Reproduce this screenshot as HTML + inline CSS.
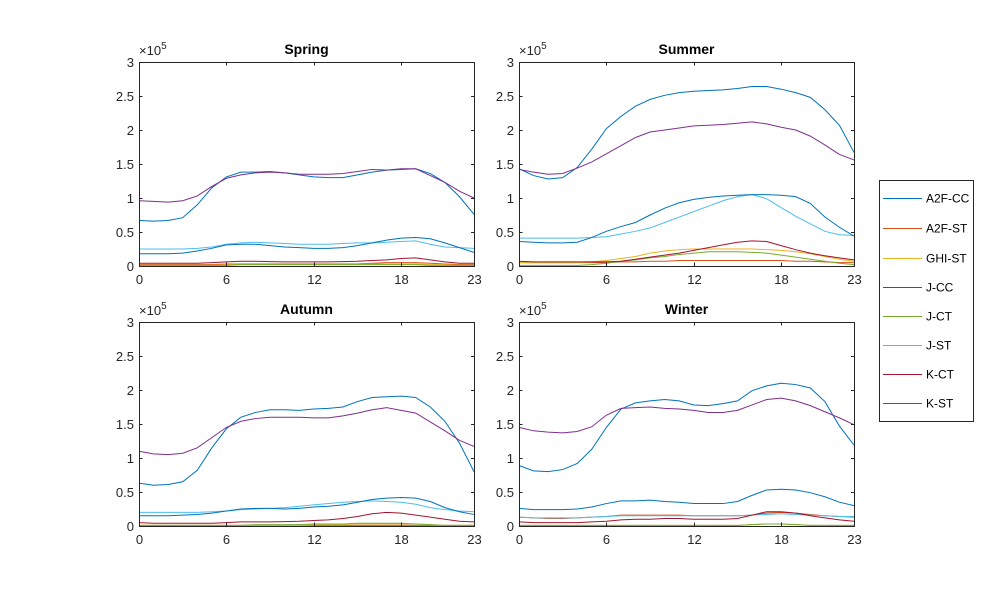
<!DOCTYPE html>
<html><head><meta charset="utf-8"><style>
html,body{margin:0;padding:0;background:#fff;}
svg{display:block;font-family:"Liberation Sans",Arial,sans-serif;}
</style></head><body>
<svg id="chart" width="1000" height="600" viewBox="0 0 1000 600"></svg>
<script>
const hours = [0,1,2,3,4,5,6,7,8,9,10,11,12,13,14,15,16,17,18,19,20,21,22,23];
const seriesNames = ["A2F-CC","A2F-ST","GHI-ST","J-CC","J-CT","J-ST","K-CT","K-ST"];
const seriesColors = ["#0072BD","#D95319","#EDB120","#7E2F8E","#77AC30","#4DBEEE","#A2142F","#0072BD"];
const seasons = ["Spring","Summer","Autumn","Winter"];
const yTicks = [0,0.5,1,1.5,2,2.5,3];
const yTickLabels = ["0","0.5","1","1.5","2","2.5","3"];
const xTicks = [0,6,12,18,23];
// values in units of 1e5
const springData = [
 [0.67,0.66,0.67,0.71,0.9,1.15,1.31,1.38,1.38,1.39,1.37,1.34,1.31,1.30,1.30,1.34,1.38,1.41,1.42,1.43,1.36,1.23,1.02,0.76],
 [0.02,0.02,0.02,0.02,0.02,0.02,0.03,0.03,0.03,0.03,0.03,0.03,0.03,0.03,0.03,0.03,0.04,0.05,0.05,0.05,0.04,0.03,0.02,0.02],
 [0.01,0.01,0.01,0.01,0.01,0.01,0.02,0.02,0.02,0.02,0.02,0.02,0.02,0.02,0.02,0.02,0.03,0.03,0.03,0.03,0.02,0.02,0.01,0.01],
 [0.96,0.95,0.94,0.96,1.03,1.17,1.29,1.34,1.37,1.38,1.37,1.35,1.35,1.35,1.36,1.39,1.42,1.41,1.43,1.43,1.33,1.23,1.10,1.00],
 [0.01,0.01,0.01,0.01,0.01,0.01,0.01,0.02,0.02,0.02,0.02,0.02,0.02,0.02,0.02,0.02,0.02,0.02,0.02,0.02,0.01,0.01,0.01,0.01],
 [0.25,0.25,0.25,0.25,0.26,0.28,0.32,0.34,0.35,0.34,0.33,0.32,0.32,0.32,0.33,0.34,0.34,0.35,0.36,0.37,0.32,0.28,0.27,0.26],
 [0.04,0.04,0.04,0.04,0.04,0.05,0.06,0.07,0.07,0.065,0.06,0.06,0.06,0.06,0.065,0.07,0.08,0.09,0.11,0.12,0.09,0.06,0.04,0.04],
 [0.18,0.18,0.18,0.19,0.22,0.26,0.31,0.32,0.32,0.30,0.28,0.27,0.26,0.26,0.27,0.30,0.34,0.38,0.41,0.42,0.40,0.34,0.27,0.20]
];
const summerData = [
 [1.43,1.33,1.28,1.30,1.45,1.72,2.02,2.20,2.35,2.45,2.51,2.55,2.57,2.58,2.59,2.61,2.64,2.64,2.60,2.55,2.48,2.30,2.07,1.67],
 [0.05,0.05,0.05,0.05,0.05,0.05,0.05,0.06,0.06,0.07,0.07,0.08,0.08,0.08,0.08,0.08,0.08,0.08,0.08,0.07,0.07,0.06,0.05,0.05],
 [0.05,0.05,0.05,0.05,0.05,0.06,0.08,0.11,0.14,0.19,0.22,0.24,0.25,0.25,0.25,0.25,0.25,0.24,0.23,0.21,0.18,0.14,0.10,0.07],
 [1.42,1.38,1.35,1.36,1.44,1.53,1.65,1.77,1.89,1.97,2.00,2.03,2.06,2.07,2.08,2.10,2.12,2.09,2.04,2.00,1.91,1.78,1.64,1.56],
 [0.01,0.01,0.01,0.01,0.01,0.02,0.04,0.07,0.09,0.12,0.14,0.17,0.19,0.21,0.21,0.21,0.20,0.19,0.16,0.13,0.10,0.07,0.04,0.02],
 [0.41,0.41,0.41,0.41,0.41,0.42,0.43,0.47,0.51,0.56,0.64,0.72,0.80,0.88,0.96,1.02,1.05,0.99,0.86,0.73,0.62,0.51,0.46,0.45],
 [0.07,0.06,0.06,0.06,0.06,0.06,0.06,0.07,0.10,0.13,0.16,0.19,0.23,0.27,0.31,0.35,0.37,0.36,0.30,0.24,0.19,0.15,0.12,0.09],
 [0.36,0.35,0.34,0.34,0.35,0.42,0.51,0.58,0.64,0.75,0.85,0.93,0.98,1.01,1.03,1.04,1.05,1.05,1.04,1.02,0.92,0.72,0.57,0.44]
];
const autumnData = [
 [0.63,0.60,0.61,0.65,0.82,1.15,1.43,1.60,1.67,1.71,1.71,1.70,1.72,1.73,1.75,1.83,1.89,1.90,1.91,1.89,1.75,1.54,1.22,0.80],
 [0.01,0.01,0.01,0.01,0.01,0.01,0.01,0.01,0.01,0.01,0.01,0.01,0.01,0.01,0.01,0.01,0.01,0.01,0.01,0.01,0.01,0.01,0.01,0.01],
 [0.01,0.01,0.01,0.01,0.01,0.01,0.01,0.01,0.01,0.01,0.01,0.01,0.02,0.02,0.02,0.03,0.03,0.03,0.03,0.03,0.02,0.01,0.01,0.01],
 [1.10,1.06,1.05,1.07,1.15,1.30,1.45,1.54,1.58,1.60,1.60,1.60,1.59,1.59,1.62,1.66,1.71,1.74,1.70,1.66,1.53,1.40,1.26,1.17],
 [0.01,0.01,0.01,0.01,0.01,0.01,0.01,0.01,0.02,0.02,0.02,0.02,0.03,0.03,0.03,0.04,0.04,0.04,0.04,0.03,0.02,0.01,0.01,0.01],
 [0.20,0.20,0.20,0.20,0.20,0.21,0.22,0.24,0.25,0.26,0.27,0.29,0.31,0.33,0.35,0.36,0.37,0.36,0.35,0.32,0.27,0.24,0.22,0.21],
 [0.05,0.04,0.04,0.04,0.04,0.04,0.05,0.06,0.06,0.06,0.065,0.07,0.08,0.09,0.11,0.14,0.18,0.20,0.19,0.16,0.13,0.10,0.07,0.06],
 [0.15,0.15,0.15,0.16,0.17,0.19,0.22,0.25,0.26,0.26,0.25,0.26,0.28,0.29,0.31,0.35,0.39,0.41,0.42,0.41,0.36,0.27,0.21,0.17]
];
const winterData = [
 [0.89,0.81,0.80,0.83,0.92,1.13,1.45,1.72,1.81,1.84,1.86,1.84,1.78,1.77,1.80,1.84,1.99,2.06,2.10,2.08,2.03,1.83,1.47,1.19],
 [0.13,0.12,0.11,0.11,0.12,0.13,0.14,0.16,0.16,0.16,0.16,0.16,0.15,0.15,0.15,0.15,0.16,0.19,0.20,0.19,0.17,0.15,0.14,0.13],
 [0.01,0.01,0.01,0.01,0.01,0.01,0.01,0.01,0.01,0.01,0.01,0.01,0.01,0.01,0.01,0.01,0.02,0.03,0.03,0.02,0.01,0.01,0.01,0.01],
 [1.45,1.40,1.38,1.37,1.39,1.46,1.63,1.73,1.74,1.75,1.73,1.72,1.70,1.67,1.67,1.70,1.78,1.86,1.88,1.84,1.77,1.68,1.59,1.49],
 [0.01,0.01,0.01,0.01,0.01,0.01,0.01,0.01,0.01,0.01,0.01,0.01,0.01,0.01,0.01,0.01,0.02,0.03,0.03,0.02,0.01,0.01,0.01,0.01],
 [0.13,0.12,0.12,0.12,0.12,0.13,0.14,0.15,0.15,0.15,0.15,0.15,0.15,0.15,0.15,0.15,0.16,0.17,0.18,0.17,0.16,0.15,0.14,0.14],
 [0.06,0.05,0.05,0.05,0.05,0.06,0.07,0.09,0.10,0.10,0.11,0.11,0.10,0.10,0.10,0.11,0.16,0.21,0.21,0.19,0.15,0.12,0.09,0.07],
 [0.26,0.24,0.24,0.24,0.25,0.28,0.33,0.37,0.37,0.38,0.36,0.35,0.33,0.33,0.33,0.36,0.45,0.53,0.54,0.53,0.49,0.43,0.35,0.30]
];
const seasonData = [springData, summerData, autumnData, winterData];

const NS = "http://www.w3.org/2000/svg";
const svg = document.getElementById("chart");
function mk(tag, attrs, parent){ const e=document.createElementNS(NS,tag); for(const k in attrs) e.setAttribute(k,attrs[k]); (parent||svg).appendChild(e); return e; }
const panels = [{x0:139,y0:62},{x0:519,y0:62},{x0:139,y0:322},{x0:519,y0:322}];
const W=335, H=204, YMAX=3;
panels.forEach((p,i)=>{
  const g = mk("g",{});
  
  
  const xs = h => p.x0 + h/23*W;
  const ys = v => p.y0 + H - v/YMAX*H;
  mk("rect",{x:p.x0,y:p.y0,width:W,height:H,fill:"#fff"},g);
  // lines
  seasonData[i].forEach((vals,s)=>{
    const d = vals.map((v,k)=>(k?"L":"M")+xs(hours[k]).toFixed(2)+" "+ys(v).toFixed(2)).join(" ");
    const pl = mk("path",{d:d,fill:"none",stroke:seriesColors[s],"stroke-width":1},g);
    
    
  });
  // box
  mk("rect",{x:p.x0+0.5,y:p.y0+0.5,width:W,height:H,fill:"none",stroke:"#262626","stroke-width":1},g);
  // y ticks
  yTicks.forEach((t,k)=>{
    const y = Math.round(ys(t))+0.5;
    mk("line",{x1:p.x0,x2:p.x0+3.5,y1:y,y2:y,stroke:"#262626"},g);
    mk("line",{x1:p.x0+W-3,x2:p.x0+W,y1:y,y2:y,stroke:"#262626"},g);
    const tx = mk("text",{x:p.x0-5,y:y+4.5,"text-anchor":"end","font-size":13,fill:"#262626"},g);
    tx.textContent = yTickLabels[k];
    
    
  });
  xTicks.forEach(t=>{
    const x = Math.round(xs(t))+0.5;
    mk("line",{x1:x,x2:x,y1:p.y0+H,y2:p.y0+H-3.5,stroke:"#262626"},g);
    mk("line",{x1:x,x2:x,y1:p.y0,y2:p.y0+3.5,stroke:"#262626"},g);
    const tx = mk("text",{x:x,y:p.y0+H+18,"text-anchor":"middle","font-size":13,fill:"#262626"},g);
    tx.textContent = String(t);
    
    
  });
  const ex = mk("text",{x:p.x0,y:p.y0-7,"font-size":13,fill:"#262626"},g);
  ex.innerHTML = '×10<tspan dy="-6" font-size="10">5</tspan>';
  
  
  const ti = mk("text",{x:p.x0+W/2,y:p.y0-8,"text-anchor":"middle","font-size":14,"font-weight":"bold",fill:"#000"},g);
  ti.textContent = seasons[i];
  
  
});
// legend
const lg = mk("g",{});


mk("rect",{x:879.5,y:180.5,width:94,height:241,fill:"#fff",stroke:"#262626"},lg);
const rowY=[198,228,258,287,316,345,374,403];
seriesNames.forEach((n,s)=>{
  const e = mk("g",{},lg);
  
  
  mk("line",{x1:883,x2:922,y1:rowY[s]+0.5,y2:rowY[s]+0.5,stroke:seriesColors[s]},e);
  const t = mk("text",{x:926,y:rowY[s]+4.5,"font-size":12,fill:"#000"},e);
  t.textContent = n;
});
</script>
</body></html>
